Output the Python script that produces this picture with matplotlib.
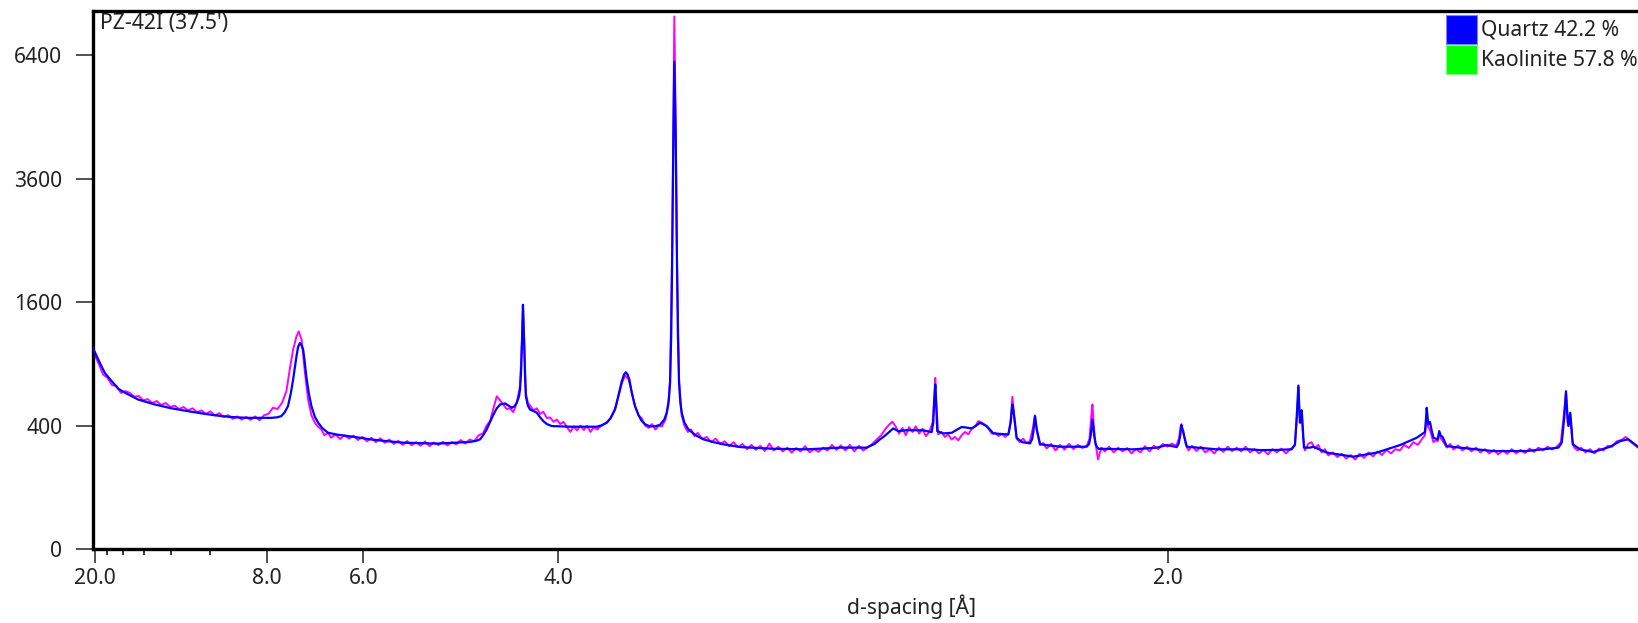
import numpy as np
import matplotlib
matplotlib.use("Agg")
import matplotlib.pyplot as plt
from matplotlib.patches import Rectangle
from matplotlib.ticker import NullLocator

plt.rcParams['font.family'] = ['Noto Sans', 'DejaVu Sans']

# Co K-alpha: scan is in 2-theta, axis is labelled in d-spacing
wavelength = 1.789

sample = "PZ-42I (37.5')"
phases = ["Quartz", "Kaolinite"]
phase_pct = [42.2, 57.8]
phase_colors = ["#0000ff", "#00ff00"]

d_major = [20.0, 8.0, 6.0, 4.0, 2.0]
d_minor = [18.0, 16.0, 14.0, 12.0, 10.0]
y_ticks = [0, 400, 1600, 3600, 6400]

# calculated pattern (blue)
calc_2th = [5.05, 5.25, 5.4, 5.58, 5.8, 6.0, 6.17, 6.5, 7.07, 7.5,
            7.81, 8.5, 9.3, 10.0, 10.79, 11.4, 11.99, 13.03, 13.3, 13.47,
            13.62, 13.77, 13.9, 14.0, 14.08, 14.15, 14.22, 14.3, 14.38, 14.45,
            14.52, 14.59, 14.7, 14.82, 14.97, 15.12, 15.3, 15.56, 16.0, 16.46,
            17.0, 17.44, 18.0, 18.93, 20.43, 21.91, 22.2, 22.36, 22.5, 22.66,
            22.81, 22.96, 23.11, 23.26, 23.48, 23.63, 23.78, 23.9, 24.0, 24.1,
            24.15, 24.2, 24.24, 24.28, 24.33, 24.37, 24.41, 24.5, 24.6, 24.75,
            24.9, 25.05, 25.19, 25.35, 25.57, 26.39, 27.58, 27.8, 28.03, 28.2,
            28.4, 28.55, 28.7, 28.8, 28.88, 28.96, 29.04, 29.15, 29.29, 29.45,
            29.59, 29.75, 29.96, 30.2, 30.41, 30.6, 30.71, 30.8, 30.86, 30.91,
            30.95, 31.01, 31.05, 31.11, 31.17, 31.21, 31.26, 31.32, 31.38, 31.5,
            31.68, 32.0, 32.35, 32.8, 33.24, 34.0, 35.48, 36.97, 38.46, 39.65,
            40.0, 40.25, 40.45, 40.62, 40.84, 41.07, 41.44, 42.19, 42.56, 42.63,
            42.68, 42.72, 42.76, 42.81, 43.08, 43.46, 43.7, 43.9, 44.1, 44.35,
            44.55, 44.72, 45.02, 45.32, 45.99, 46.09, 46.17, 46.22, 46.26, 46.36,
            46.6, 46.96, 47.06, 47.11, 47.18, 47.22, 47.26, 47.41, 48.3, 49.49,
            49.6, 49.67, 49.75, 49.83, 49.9, 50.01, 51.58, 52.63, 53.07, 53.52,
            53.6, 53.67, 53.73, 53.77, 53.81, 53.86, 53.97, 55.31, 56.8, 57.25,
            58.0, 58.66, 58.81, 58.9, 58.96, 59.0, 59.03, 59.07, 59.11, 59.16,
            59.21, 59.48, 59.63, 60.23, 61.42, 62.46, 63.51, 64.25, 64.62, 64.66,
            64.7, 64.74, 64.77, 64.85, 64.92, 65.0, 65.19, 65.26, 65.34, 65.41,
            65.59, 66.19, 67.68, 69.17, 70.59, 70.74, 70.85, 70.93, 70.99, 71.04,
            71.12, 71.18, 71.23, 71.56, 72.15, 72.91, 73.35, 73.72, 74.15]
calc_cts = [1060, 960, 890, 815, 760, 715, 676, 640, 587, 565,
            549, 522, 499, 481, 464, 456, 452, 452, 456, 464,
            490, 536, 640, 754, 870, 975, 1070, 1115, 1090, 1044,
            920, 784, 640, 536, 460, 419, 385, 355, 343, 335,
            325, 316, 308, 297, 292, 301, 308, 316, 340, 376,
            425, 476, 520, 549, 557, 540, 524, 535, 562, 610,
            668, 850, 1151, 1567, 1151, 800, 613, 540, 511, 500,
            488, 455, 430, 410, 397, 393, 393, 402, 419, 450,
            511, 620, 739, 800, 821, 800, 754, 640, 536, 470,
            430, 408, 395, 396, 405, 440, 488, 580, 725, 1200,
            2095, 4531, 6241, 4531, 2095, 1200, 725, 560, 488, 420,
            376, 340, 316, 300, 288, 273, 264, 261, 270, 270,
            290, 316, 335, 355, 382, 365, 371, 370, 359, 420,
            587, 711, 560, 365, 351, 355, 375, 391, 388, 382,
            400, 419, 397, 351, 345, 419, 549, 500, 452, 325,
            300, 293, 320, 365, 464, 420, 376, 288, 275, 275,
            290, 335, 441, 335, 285, 264, 261, 270, 284, 273,
            290, 335, 403, 380, 365, 331, 275, 261, 261, 257,
            258, 261, 288, 500, 702, 520, 419, 470, 506, 380,
            270, 270, 275, 244, 224, 244, 284, 325, 359, 430,
            524, 460, 408, 423, 370, 325, 316, 365, 335, 331,
            278, 270, 252, 252, 270, 297, 450, 654, 480, 397,
            488, 380, 288, 261, 247, 275, 306, 316, 275]

# observed pattern (magenta)
obs_2th = [5.05, 5.1, 5.3, 5.5, 5.7, 5.9, 6.1, 6.3, 6.5, 6.7,
           6.9, 7.1, 7.3, 7.5, 7.7, 7.9, 8.1, 8.3, 8.5, 8.7,
           8.9, 9.1, 9.3, 9.5, 9.7, 9.9, 10.1, 10.3, 10.5, 10.7,
           10.9, 11.1, 11.3, 11.5, 11.7, 11.9, 12.1, 12.3, 12.5, 12.7,
           12.9, 13.1, 13.3, 13.5, 13.7, 13.85, 14.0, 14.15, 14.25, 14.38,
           14.53, 14.67, 14.82, 14.97, 15.1, 15.26, 15.4, 15.56, 15.7, 15.9,
           16.1, 16.3, 16.5, 16.7, 16.9, 17.1, 17.3, 17.5, 17.7, 17.9,
           18.1, 18.3, 18.5, 18.7, 18.9, 19.1, 19.3, 19.5, 19.7, 19.9,
           20.1, 20.3, 20.5, 20.7, 20.9, 21.1, 21.3, 21.5, 21.7, 21.9,
           22.1, 22.3, 22.5, 22.65, 22.81, 22.96, 23.11, 23.26, 23.4, 23.55,
           23.7, 23.85, 24.0, 24.15, 24.24, 24.28, 24.33, 24.41, 24.5, 24.6,
           24.75, 24.9, 25.05, 25.19, 25.35, 25.49, 25.65, 25.79, 25.95, 26.09,
           26.25, 26.4, 26.55, 26.7, 26.85, 27.0, 27.15, 27.3, 27.45, 27.6,
           27.75, 27.9, 28.05, 28.2, 28.4, 28.55, 28.7, 28.85, 29.0, 29.15,
           29.29, 29.45, 29.59, 29.75, 29.9, 30.05, 30.2, 30.35, 30.5, 30.65,
           30.78, 30.86, 30.95, 31.01, 31.05, 31.11, 31.17, 31.26, 31.38, 31.5,
           31.65, 31.8, 31.95, 32.1, 32.3, 32.5, 32.7, 32.9, 33.1, 33.3,
           33.5, 33.7, 33.9, 34.1, 34.3, 34.5, 34.7, 34.9, 35.1, 35.3,
           35.5, 35.7, 35.9, 36.1, 36.3, 36.5, 36.7, 36.9, 37.1, 37.3,
           37.5, 37.7, 37.9, 38.1, 38.3, 38.5, 38.7, 38.9, 39.1, 39.3,
           39.5, 39.7, 39.9, 40.1, 40.3, 40.5, 40.65, 40.8, 40.95, 41.1,
           41.25, 41.4, 41.55, 41.7, 41.85, 42.0, 42.15, 42.3, 42.45, 42.6,
           42.68, 42.72, 42.77, 42.85, 43.0, 43.15, 43.3, 43.45, 43.6, 43.75,
           43.9, 44.05, 44.2, 44.35, 44.5, 44.65, 44.8, 44.95, 45.1, 45.25,
           45.4, 45.55, 45.7, 45.85, 46.0, 46.09, 46.17, 46.26, 46.36, 46.5,
           46.65, 46.8, 46.95, 47.08, 47.18, 47.26, 47.4, 47.55, 47.7, 47.9,
           48.1, 48.3, 48.5, 48.7, 48.9, 49.1, 49.3, 49.5, 49.62, 49.7,
           49.75, 49.8, 49.88, 50.0, 50.15, 50.3, 50.5, 50.7, 50.9, 51.1,
           51.3, 51.5, 51.7, 51.9, 52.1, 52.3, 52.5, 52.7, 52.9, 53.1,
           53.3, 53.5, 53.62, 53.7, 53.73, 53.78, 53.84, 53.92, 54.05, 54.2,
           54.4, 54.6, 54.8, 55.0, 55.2, 55.4, 55.6, 55.8, 56.0, 56.2,
           56.4, 56.6, 56.8, 57.0, 57.2, 57.4, 57.6, 57.8, 58.0, 58.2,
           58.4, 58.6, 58.8, 58.92, 58.96, 59.0, 59.05, 59.11, 59.17, 59.25,
           59.4, 59.55, 59.7, 59.85, 60.0, 60.15, 60.3, 60.5, 60.7, 60.9,
           61.1, 61.3, 61.5, 61.7, 61.9, 62.1, 62.3, 62.5, 62.7, 62.9,
           63.1, 63.3, 63.5, 63.7, 63.9, 64.1, 64.3, 64.5, 64.62, 64.7,
           64.77, 64.85, 65.0, 65.1, 65.19, 65.26, 65.34, 65.45, 65.6, 65.75,
           65.9, 66.1, 66.3, 66.5, 66.7, 66.9, 67.1, 67.3, 67.5, 67.7,
           67.9, 68.1, 68.3, 68.5, 68.7, 68.9, 69.1, 69.3, 69.5, 69.7,
           69.9, 70.1, 70.3, 70.5, 70.7, 70.85, 70.93, 71.0, 71.05, 71.12,
           71.2, 71.3, 71.45, 71.6, 71.8, 72.0, 72.2, 72.4, 72.6, 72.8,
           73.0, 73.2, 73.4, 73.6, 73.8, 74.0, 74.15]
obs_cts = [1010, 1000, 905, 800, 770, 705, 700, 640, 655, 640,
           610, 615, 580, 590, 560, 575, 545, 560, 530, 540,
           515, 530, 505, 520, 492, 505, 480, 498, 468, 485,
           458, 470, 445, 462, 440, 458, 438, 462, 435, 470,
           480, 525, 515, 560, 654, 846, 1044, 1187, 1244, 1151,
           815, 587, 470, 419, 395, 376, 340, 355, 325, 345,
           318, 340, 320, 338, 312, 330, 305, 325, 300, 322,
           296, 315, 290, 308, 285, 306, 283, 300, 280, 304,
           278, 298, 284, 302, 282, 300, 288, 312, 292, 315,
           305, 340, 352, 400, 430, 520, 613, 580, 548, 515,
           520, 492, 560, 700, 1180, 1560, 1180, 640, 560, 540,
           505, 520, 480, 495, 450, 455, 425, 440, 410, 425,
           390, 360, 395, 370, 400, 372, 398, 360, 390, 375,
           395, 410, 425, 450, 520, 610, 720, 790, 760, 640,
           540, 470, 450, 400, 385, 410, 375, 400, 395, 440,
           540, 760, 2300, 5200, 7450, 4800, 2200, 760, 470, 400,
           360, 375, 335, 355, 318, 330, 300, 320, 290, 305,
           278, 300, 272, 290, 262, 285, 258, 280, 252, 292,
           255, 275, 250, 270, 244, 268, 250, 278, 246, 262,
           248, 270, 255, 285, 258, 282, 255, 285, 250, 280,
           255, 272, 290, 315, 340, 380, 405, 426, 395, 350,
           385, 340, 390, 360, 395, 350, 380, 335, 360, 420,
           620, 769, 560, 345, 360, 330, 345, 315, 330, 310,
           340, 360, 345, 380, 395, 430, 420, 405, 380, 350,
           355, 335, 348, 330, 350, 430, 609, 440, 320, 300,
           320, 295, 305, 380, 470, 370, 285, 295, 265, 290,
           255, 285, 260, 290, 262, 285, 268, 280, 320, 470,
           549, 420, 300, 211, 270, 250, 275, 245, 270, 250,
           268, 240, 262, 245, 278, 250, 280, 262, 290, 275,
           292, 280, 320, 400, 410, 370, 340, 290, 255, 280,
           252, 275, 245, 262, 240, 270, 248, 275, 252, 270,
           250, 275, 245, 262, 240, 258, 235, 262, 245, 265,
           240, 262, 280, 500, 690, 500, 420, 490, 330, 255,
           290, 300, 265, 285, 245, 262, 230, 245, 222, 238,
           215, 232, 210, 238, 218, 245, 225, 250, 232, 258,
           240, 262, 255, 285, 268, 300, 285, 320, 340, 450,
           390, 370, 300, 310, 305, 340, 320, 300, 270, 290,
           260, 282, 255, 275, 250, 270, 245, 262, 240, 258,
           235, 255, 238, 262, 240, 258, 242, 265, 248, 270,
           255, 275, 260, 272, 300, 500, 640, 420, 400, 470,
           320, 270, 255, 270, 245, 262, 240, 265, 255, 280,
           275, 305, 312, 330, 305, 285, 270]


def d_to_2th(d):
    return 2 * np.degrees(np.arcsin(wavelength / (2 * np.asarray(d))))


W, H = 1638, 623
fig = plt.figure(figsize=(W / 100, H / 100), dpi=100)
ax = fig.add_axes([93 / W, 1 - 549 / H, 1 - 93 / W, (549 - 10.5) / H])

ax.plot(obs_2th, obs_cts, color="#ff00ff", lw=1.4, zorder=2)
ax.plot(calc_2th, calc_cts, color="#0000ff", lw=1.6, zorder=3)

# square-root intensity axis
ax.set_yscale('function', functions=(lambda v: np.sqrt(np.clip(v, 0, None)),
                                     lambda v: np.square(v)))
ax.set_ylim(0, 7620)
ax.set_xlim(5.05, 74.15)

fs = 15.2
ax.set_yticks(y_ticks)
ax.set_yticklabels([str(v) for v in y_ticks])
ax.yaxis.set_minor_locator(NullLocator())
ax.set_xticks(d_to_2th(d_major))
ax.set_xticklabels([f"{d:.1f}" for d in d_major])
ax.set_xticks(d_to_2th(d_minor), minor=True)

ax.tick_params(axis='y', length=12, width=1.1, pad=10, labelsize=fs, colors='#222222')
ax.tick_params(axis='x', which='major', length=10, width=1.1, pad=4, labelsize=fs, colors='#222222')
ax.tick_params(axis='x', which='minor', length=4, width=1.1)

for side in ['left', 'bottom', 'top']:
    ax.spines[side].set_linewidth(2.4)
    ax.spines[side].set_color('black')
ax.spines['right'].set_visible(False)

fig.text(100 / W, 1 - 23 / H, sample, fontsize=fs, va='center', ha='left', color='#222222')
fig.text(912 / W, 1 - 607 / H, "d-spacing [Å]", fontsize=fs, va='center', ha='center', color='#222222')

# phase legend, top right
box_top = [15, 45]
for name, pct, col, top in zip(phases, phase_pct, phase_colors, box_top):
    fig.add_artist(Rectangle((1446 / W, 1 - (top + 29) / H), 31 / W, 29 / H,
                             transform=fig.transFigure, facecolor=col,
                             edgecolor='#8080ff' if col == "#0000ff" else '#80ff80', lw=0.8))
    fig.text(1481 / W, 1 - (top + 15) / H, f"{name} {pct:.1f} %", fontsize=fs,
             va='center', ha='left', color='#222222')

fig.savefig("out.png", dpi=100)
